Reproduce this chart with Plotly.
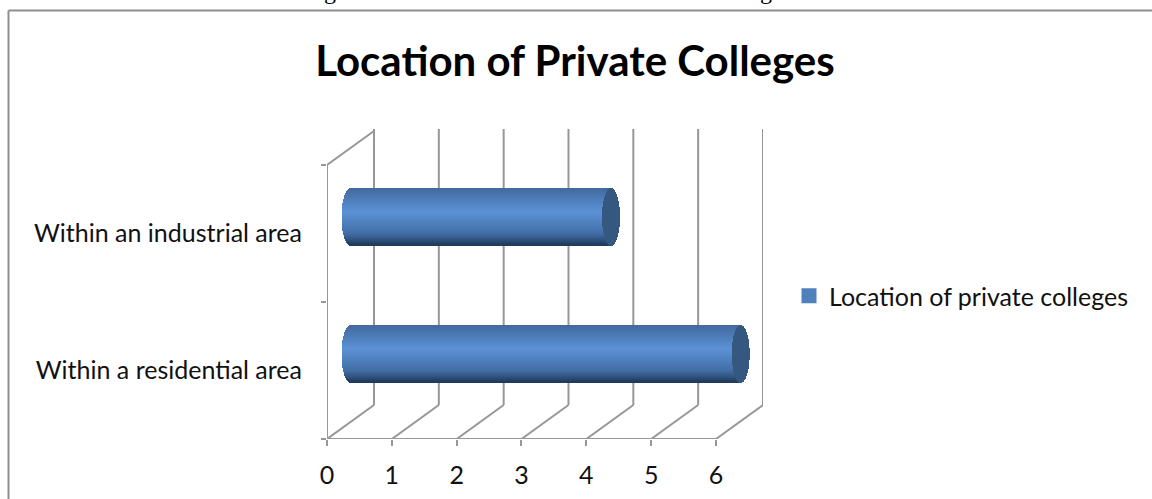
import math
import plotly.graph_objects as go

categories = ["Within a residential area", "Within an industrial area"]
values = [6, 4]
x_ticks = [0, 1, 2, 3, 4, 5, 6]
series_name = "Location of private colleges"
title_text = "Location of Private Colleges"

W, H = 1152, 499
ML = 12                      # left page margin of the plot area
X0, XU = 327, 64.83          # pixel of x=0, pixels per unit
Y0, YU = 439, 137.0          # pixel of y=0, pixels per unit
DX, DY = 47 / XU, 34 / YU    # 3D depth of the chart floor
XMAX, YMAX = 436 / XU, 310 / YU
GRID = "#979797"
FONT = "Lato, Carlito, Calibri, sans-serif"


def fx(px):
    return (px - ML) / (W - ML)


stops = [(0.0, (66, 105, 158)), (0.42, (91, 146, 214)), (0.8, (66, 110, 165)),
         (0.93, (44, 76, 117)), (1.0, (30, 56, 90))]


def shade(t):
    for (a, ca), (b, cb) in zip(stops, stops[1:]):
        if t <= b:
            f = (t - a) / (b - a)
            return "rgb(%d,%d,%d)" % tuple(round(p + (q - p) * f) for p, q in zip(ca, cb))
    return "rgb(30,56,90)"


bar_h = 57 / YU
n_bands = 57
band_h = bar_h / n_bands
cap_w = 9 / XU
end_nudge = 1.2 / XU
ys, xs, bases, colors = [], [], [], []
cap_y, cap_x, cap_b = [], [], []
for i, v in enumerate(values):
    centre = i + 0.5 + DY / 2
    start = DX / 2
    for b in range(n_bands):
        t = (b + 0.5) / n_bands
        u = 2 * t - 1
        d = cap_w * math.sqrt(max(0, 1 - u * u))
        y = centre + bar_h / 2 - (b + 0.5) * band_h
        ys.append(y); bases.append(start - d); xs.append(v + d + end_nudge); colors.append(shade(t))
        cap_y.append(y); cap_b.append(v + start + end_nudge - d); cap_x.append(2 * d)

fig = go.Figure()
fig.add_trace(go.Bar(y=ys, x=xs, base=bases, width=band_h * 1.02, orientation="h",
                     marker=dict(color=colors, line=dict(width=0)), showlegend=False, hoverinfo="skip"))
fig.add_trace(go.Bar(y=cap_y, x=cap_x, base=cap_b, width=band_h * 1.02, orientation="h",
                     marker=dict(color="#34587F", line=dict(width=0)), showlegend=False, hoverinfo="skip"))
fig.add_trace(go.Scatter(y=[None], x=[None], mode="markers", name=series_name,
                         marker=dict(color="#4F81BD", symbol="square", size=15, line=dict(width=0))))


def seg(x0, y0, x1, y1):
    return dict(type="line", xref="x", yref="y", x0=x0, y0=y0, x1=x1, y1=y1, layer="below",
                line=dict(color=GRID, width=2))


shapes = []
for t in x_ticks:
    shapes.append(seg(t + DX, DY, t + DX, YMAX))
    shapes.append(seg(t, 0, t + DX, DY))
shapes.append(seg(0, 0, x_ticks[-1], 0))
shapes.append(seg(0, 0, 0, len(categories)))
shapes.append(seg(0, len(categories), DX, len(categories) + DY))
# page frame of the embedded chart: only its left and top edges are in the crop
for a, b, c, d in [(fx(8.5), 0, fx(8.5), 1 - 10.5 / H), (fx(8.5), 1 - 10.5 / H, 1, 1 - 10.5 / H)]:
    shapes.append(dict(type="line", xref="paper", yref="paper", x0=a, y0=b, x1=c, y1=d,
                       line=dict(color="#8E8E8E", width=2), layer="below"))

fig.update_layout(
    width=W, height=H, autosize=False, margin=dict(l=ML, r=0, t=0, b=0),
    paper_bgcolor="white", plot_bgcolor="rgba(0,0,0,0)", barmode="overlay", bargap=0,
    font=dict(family=FONT, size=25, color="#111111"),
    title=dict(text="<b>" + title_text + "</b>", x=fx(575), xanchor="center", xref="paper",
               y=1 - 61 / H, yanchor="middle", yref="paper",
               font=dict(family=FONT, size=42, color="black")),
    xaxis=dict(domain=[fx(X0), fx(X0 + XMAX * XU)], range=[0, XMAX], tickmode="array",
               tickvals=x_ticks, ticktext=[str(t) for t in x_ticks], ticks="outside", ticklen=6,
               tickwidth=2, tickcolor=GRID, showgrid=False, zeroline=False, showline=False,
               ticklabelstandoff=8, anchor="y", fixedrange=True),
    yaxis=dict(domain=[1 - Y0 / H, 1 - (Y0 - YMAX * YU) / H], range=[0, YMAX], tickmode="array",
               tickvals=[i + 0.5 for i in range(len(categories))], ticktext=categories,
               ticks="", showgrid=False, zeroline=False, showline=False, ticklabelstandoff=24,
               minor=dict(tickmode="array", tickvals=list(range(len(categories) + 1)), ticks="outside",
                          ticklen=5, tickwidth=2, tickcolor=GRID, showgrid=False),
               anchor="x", fixedrange=True),
    legend=dict(x=fx(789), y=1 - 296 / H, xanchor="left", yanchor="middle",
                entrywidth=300, entrywidthmode="pixels",
                font=dict(family=FONT, size=25, color="#111111"), bgcolor="rgba(0,0,0,0)"),
    showlegend=True,
    shapes=shapes,
    annotations=[dict(text="g", xref="paper", yref="paper", x=fx(px), y=1, yanchor="bottom", xanchor="center",
                      yshift=-6, showarrow=False, font=dict(family="Liberation Serif", size=24, color="black"))
                 for px in (330, 766)],
)

fig.write_html("out.html", config=dict(displayModeBar=False),
               post_script="document.body.style.margin='0';document.documentElement.style.overflow='hidden';")
